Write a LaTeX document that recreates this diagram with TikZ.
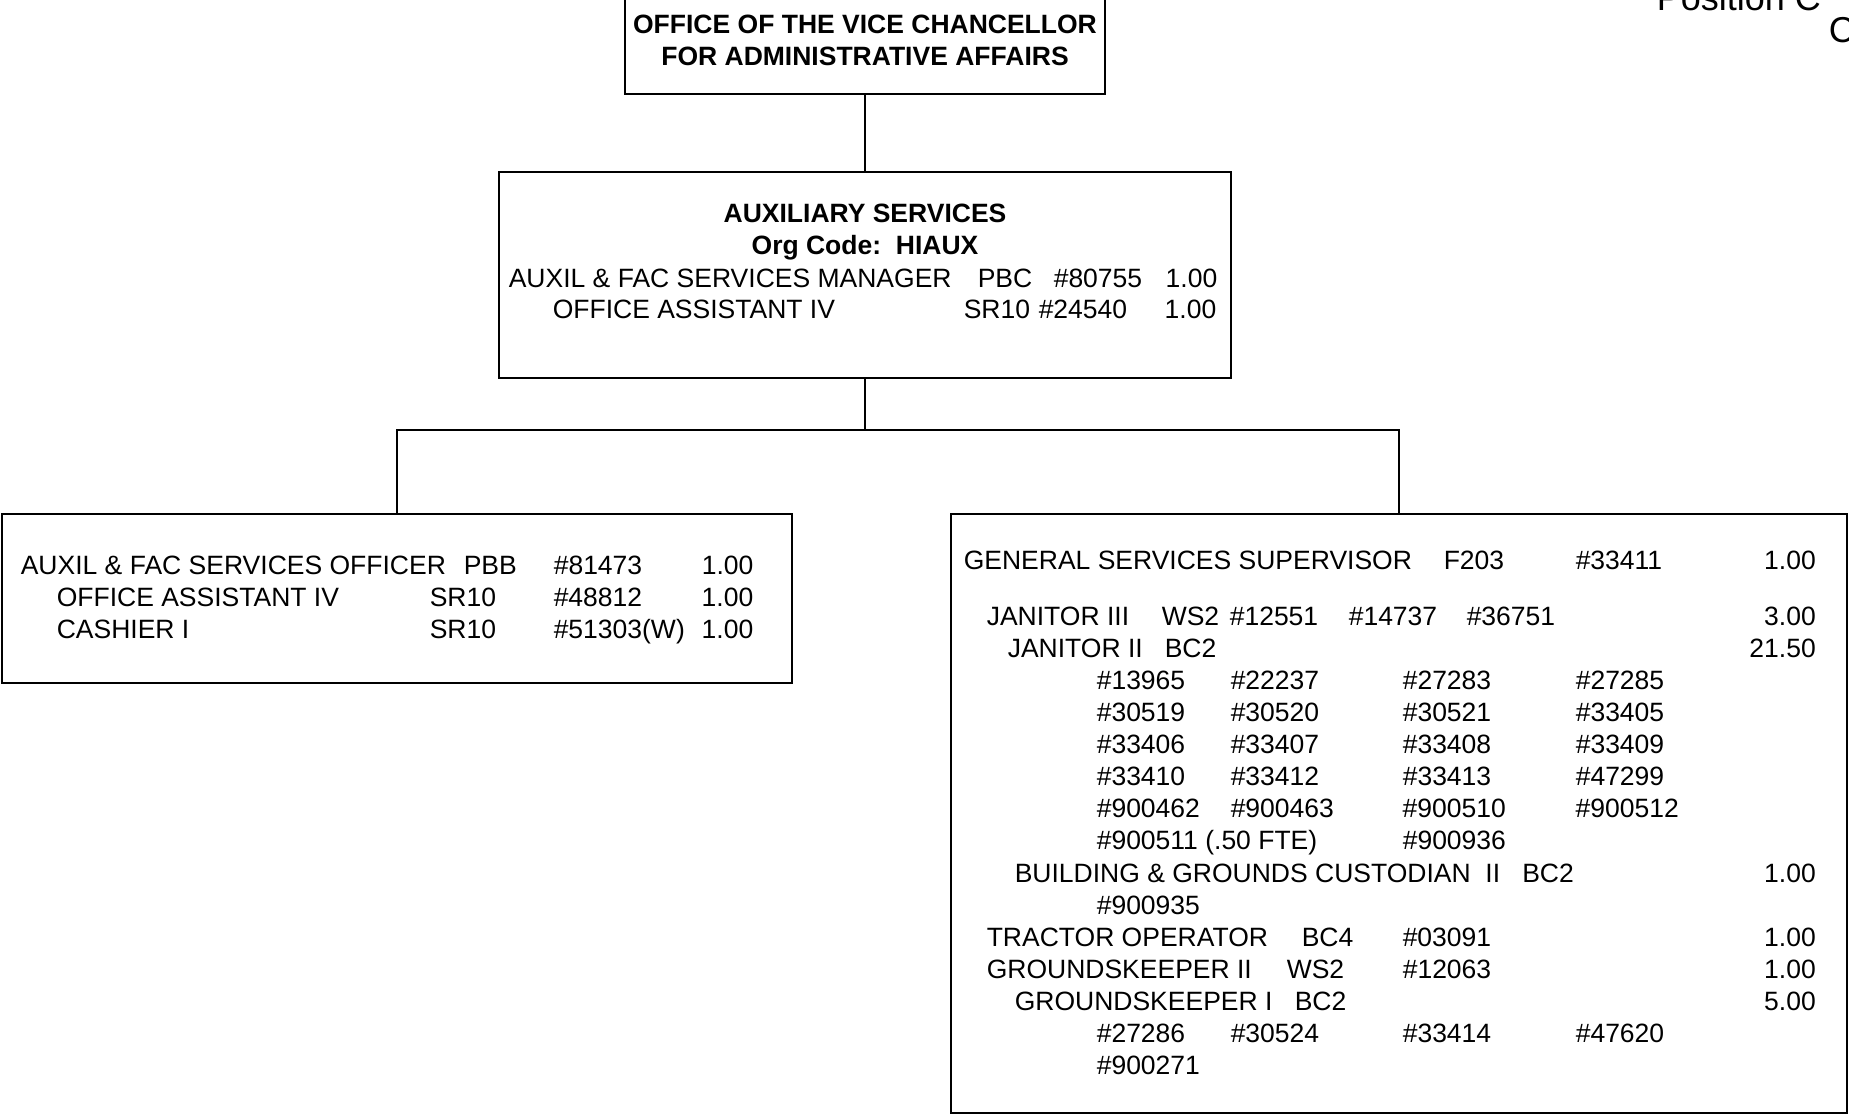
\documentclass[tikz,border=0pt]{standalone}
\usepackage{fontspec}
\setmainfont{Liberation Sans}

\newcommand{\chartsize}{\fontsize{13.25pt}{16pt}\selectfont}
\newcommand{\colat}[2]{\makebox[0pt][l]{\hspace*{\dimexpr#1pt/2\relax}#2}}
\newcommand{\colend}[2]{\makebox[0pt][l]{\hspace*{\dimexpr#1pt/2\relax}\makebox[0pt][r]{#2}}}

\tikzset{every picture/.style={line width=0.8pt}}
\tikzset{
    orgbox/.style={draw, rectangle, inner sep=0pt},
    head/.style={anchor=base, inner sep=0pt, font=\chartsize\bfseries},
    rowtxt/.style={anchor=base west, inner sep=0pt, font=\chartsize},
}

\begin{document}
\begin{tikzpicture}[x=0.5pt, y=-0.5pt]
    \clip (0,0) rectangle (1849,1115);

    \node[orgbox, minimum width=240pt, minimum height=62pt] (vc) at (865,32) {};
    \node[orgbox, minimum width=366pt, minimum height=103pt] (aux) at (865,275) {};
    \node[orgbox, minimum width=395pt, minimum height=84.5pt] (officer) at (397,598.5) {};
    \node[orgbox, minimum width=448pt, minimum height=299.5pt] (gensvc) at (1399,813.5) {};

    \node[head] (vc-1) at (865,33) {OFFICE OF THE VICE CHANCELLOR};
    \node[head] (vc-2) at (865,65) {FOR ADMINISTRATIVE AFFAIRS};

    \node[head] (aux-1) at (865,222) {AUXILIARY SERVICES};
    \node[head] (aux-2) at (865,254) {Org Code:~~HIAUX};
    \node[rowtxt] (aux-3) at (0,287) {\colat{507}{AUXIL \& FAC SERVICES MANAGER}\colat{976}{PBC}\colat{1052}{\#80755}\colat{1164}{1.00}};
    \node[rowtxt] (aux-4) at (0,318) {\colat{551}{OFFICE ASSISTANT IV}\colat{962}{SR10}\colat{1037}{\#24540}\colat{1163}{1.00}};

    \foreach \y/\txt [count=\i] in {
        574/{\colat{19}{AUXIL \& FAC SERVICES OFFICER}\colat{462}{PBB}\colat{552}{\#81473}\colat{700}{1.00}},
        606/{\colat{55}{OFFICE ASSISTANT IV}\colat{428}{SR10}\colat{552}{\#48812}\colat{700}{1.00}},
        638/{\colat{55}{CASHIER I}\colat{428}{SR10}\colat{552}{\#51303(W)}\colat{700}{1.00}}}
        \node[rowtxt] (officer-\i) at (0,\y) {\txt};

    \foreach \y/\txt [count=\i] in {
        569/{\colat{962}{GENERAL SERVICES SUPERVISOR}\colat{1442}{F203}\colat{1574}{\#33411}\colend{1814}{1.00}},
        625/{\colat{985}{JANITOR III}\colat{1160}{WS2}\colat{1228}{\#12551}\colat{1347}{\#14737}\colat{1465}{\#36751}\colend{1814}{3.00}},
        657/{\colat{1006}{JANITOR II}\colat{1163}{BC2}\colend{1814}{21.50}},
        849/{\colat{1095}{\#900511 (.50 FTE)}\colat{1401}{\#900936}},
        882/{\colat{1013}{BUILDING \& GROUNDS CUSTODIAN~~II~~~BC2}\colend{1814}{1.00}},
        914/{\colat{1095}{\#900935}},
        946/{\colat{985}{TRACTOR OPERATOR}\colat{1300}{BC4}\colat{1401}{\#03091}\colend{1814}{1.00}},
        978/{\colat{985}{GROUNDSKEEPER II}\colat{1285}{WS2}\colat{1401}{\#12063}\colend{1814}{1.00}},
        1010/{\colat{1013}{GROUNDSKEEPER I}\colat{1293}{BC2}\colend{1814}{5.00}},
        1074/{\colat{1095}{\#900271}}}
        \node[rowtxt] (gensvc-\i) at (0,\y) {\txt};

    \foreach \y/\a/\b/\c/\d in {689/13965/22237/27283/27285, 721/30519/30520/30521/33405,
        753/33406/33407/33408/33409, 785/33410/33412/33413/47299,
        817/900462/900463/900510/900512, 1042/27286/30524/33414/47620}
        \node[rowtxt] (pos-\y) at (0,\y) {\colat{1095}{\#\a}\colat{1229}{\#\b}\colat{1401}{\#\c}\colat{1574}{\#\d}};

    \node[rowtxt, font=\fontsize{18pt}{20pt}\selectfont] (title-1) at (1656,10) {Position C};
    \node[rowtxt, font=\fontsize{18pt}{20pt}\selectfont] (title-2) at (1828,42) {C};

    \coordinate (split) at (865,430);
    \draw (vc.south) -- (aux.north);
    \draw (aux.south) -- (split);
    \draw (split) -| (officer.north);
    \draw (split) -| (gensvc.north);
\end{tikzpicture}
\end{document}
